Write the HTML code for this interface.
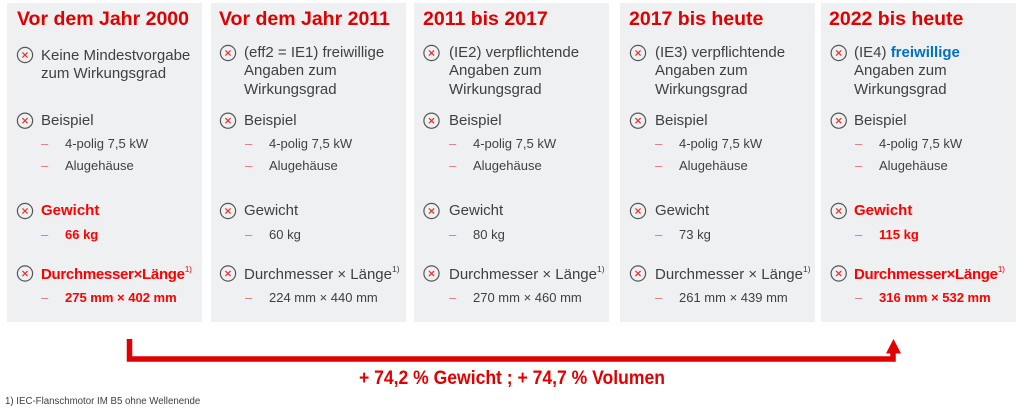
<!DOCTYPE html>
<html><head><meta charset="utf-8">
<style>
*{margin:0;padding:0;box-sizing:border-box}
html,body{width:1024px;height:414px;background:#fff;overflow:hidden}
body{position:relative;font-family:"Liberation Sans",Arial,sans-serif;color:#404040}
.p{position:absolute;top:3px;height:319px;width:195px;background:#eff0f2}
.t{position:absolute;white-space:nowrap}
.title{font-size:19.5px;line-height:1.2;font-weight:bold;color:#e00000}
.m{font-size:15px;line-height:18.5px}
.s{font-size:13px;line-height:16px}
.r{color:#ff0000;font-weight:bold}
.d{color:#ee6b6b}
.b{color:#0070c0;font-weight:bold}
sup{font-size:8.5px;position:relative;top:-1px;vertical-align:top;line-height:1;font-weight:normal}
.r sup{font-weight:normal}
svg{position:absolute;overflow:visible}
</style></head><body>

<div class="p" style="left:7px"></div>
<div class="p" style="left:211px"></div>
<div class="p" style="left:414px"></div>
<div class="p" style="left:620px"></div>
<div class="p" style="left:821px"></div>

<!-- icons -->
<svg width="1024" height="414" style="left:0;top:0">
<defs>
<g id="ic"><circle cx="0" cy="0" r="7.6" fill="none" stroke="#555" stroke-width="1.2"/><path d="M-2.6,-2.6L2.6,2.6M2.6,-2.6L-2.6,2.6" stroke="#e53935" stroke-width="1.3"/></g>
</defs>
<use href="#ic" x="25" y="55"/><use href="#ic" x="25" y="120.7"/><use href="#ic" x="25" y="211"/><use href="#ic" x="25" y="273.5"/>
<use href="#ic" x="228" y="53"/><use href="#ic" x="228" y="120.7"/><use href="#ic" x="228" y="211"/><use href="#ic" x="228" y="273.5"/>
<use href="#ic" x="431.5" y="53"/><use href="#ic" x="431.5" y="120.7"/><use href="#ic" x="431.5" y="211"/><use href="#ic" x="431.5" y="273.5"/>
<use href="#ic" x="638" y="53"/><use href="#ic" x="638" y="120.7"/><use href="#ic" x="638" y="211"/><use href="#ic" x="638" y="273.5"/>
<use href="#ic" x="838.7" y="53"/><use href="#ic" x="838.7" y="120.7"/><use href="#ic" x="838.7" y="211"/><use href="#ic" x="838.7" y="273.5"/>
<!-- arrow -->
<path d="M129.5,339 L129.5,359 L893,359 L893,352" fill="none" stroke="#e00000" stroke-width="5.5" stroke-linejoin="miter"/>
<polygon points="886,353.5 901,353.5 893.5,339" fill="#e00000"/>
</svg>

<!-- Panel 1 -->
<div class="t title" style="left:17px;top:8.3px">Vor dem Jahr 2000</div>
<div class="t m" style="left:41px;top:46.8px">Keine Mindestvorgabe<br>zum Wirkungsgrad</div>
<div class="t m" style="left:41px;top:112px">Beispiel</div>
<div class="t s d" style="left:41px;top:136px">–</div><div class="t s" style="left:65px;top:136px">4-polig 7,5 kW</div>
<div class="t s d" style="left:41px;top:158px">–</div><div class="t s" style="left:65px;top:158px">Alugehäuse</div>
<div class="t m r" style="left:41px;top:202px">Gewicht</div>
<div class="t s d" style="left:41px;top:227px">–</div><div class="t s r" style="left:65px;top:227px">66 kg</div>
<div class="t m r" style="left:41px;top:265.5px;letter-spacing:-0.3px">Durchmesser×Länge<sup>1)</sup></div>
<div class="t s d" style="left:41px;top:290px">–</div><div class="t s r" style="left:65px;top:290px">275 mm × 402 mm</div>

<!-- Panel 2 -->
<div class="t title" style="left:219px;top:8.3px">Vor dem Jahr 2011</div>
<div class="t m" style="left:244px;top:43.5px">(eff2 = IE1) freiwillige<br>Angaben zum<br>Wirkungsgrad</div>
<div class="t m" style="left:244px;top:112px">Beispiel</div>
<div class="t s d" style="left:245px;top:136px">–</div><div class="t s" style="left:269px;top:136px">4-polig 7,5 kW</div>
<div class="t s d" style="left:245px;top:158px">–</div><div class="t s" style="left:269px;top:158px">Alugehäuse</div>
<div class="t m" style="left:244px;top:202px">Gewicht</div>
<div class="t s d" style="left:245px;top:227px">–</div><div class="t s" style="left:269px;top:227px">60 kg</div>
<div class="t m" style="left:244px;top:265.5px">Durchmesser × Länge<sup>1)</sup></div>
<div class="t s d" style="left:245px;top:290px">–</div><div class="t s" style="left:269px;top:290px">224 mm × 440 mm</div>

<!-- Panel 3 -->
<div class="t title" style="left:423px;top:8.3px">2011 bis 2017</div>
<div class="t m" style="left:449px;top:43.5px">(IE2) verpflichtende<br>Angaben zum<br>Wirkungsgrad</div>
<div class="t m" style="left:449px;top:112px">Beispiel</div>
<div class="t s d" style="left:449px;top:136px">–</div><div class="t s" style="left:473px;top:136px">4-polig 7,5 kW</div>
<div class="t s d" style="left:449px;top:158px">–</div><div class="t s" style="left:473px;top:158px">Alugehäuse</div>
<div class="t m" style="left:449px;top:202px">Gewicht</div>
<div class="t s d" style="left:449px;top:227px">–</div><div class="t s" style="left:473px;top:227px">80 kg</div>
<div class="t m" style="left:449px;top:265.5px">Durchmesser × Länge<sup>1)</sup></div>
<div class="t s d" style="left:449px;top:290px">–</div><div class="t s" style="left:473px;top:290px">270 mm × 460 mm</div>

<!-- Panel 4 -->
<div class="t title" style="left:629px;top:8.3px">2017 bis heute</div>
<div class="t m" style="left:655px;top:43.5px">(IE3) verpflichtende<br>Angaben zum<br>Wirkungsgrad</div>
<div class="t m" style="left:655px;top:112px">Beispiel</div>
<div class="t s d" style="left:655px;top:136px">–</div><div class="t s" style="left:679px;top:136px">4-polig 7,5 kW</div>
<div class="t s d" style="left:655px;top:158px">–</div><div class="t s" style="left:679px;top:158px">Alugehäuse</div>
<div class="t m" style="left:655px;top:202px">Gewicht</div>
<div class="t s d" style="left:655px;top:227px">–</div><div class="t s" style="left:679px;top:227px">73 kg</div>
<div class="t m" style="left:655px;top:265.5px">Durchmesser × Länge<sup>1)</sup></div>
<div class="t s d" style="left:655px;top:290px">–</div><div class="t s" style="left:679px;top:290px">261 mm × 439 mm</div>

<!-- Panel 5 -->
<div class="t title" style="left:829px;top:8.3px">2022 bis heute</div>
<div class="t m" style="left:854px;top:43.5px">(IE4) <span class="b">freiwillige</span><br>Angaben zum<br>Wirkungsgrad</div>
<div class="t m" style="left:854px;top:112px">Beispiel</div>
<div class="t s d" style="left:855px;top:136px">–</div><div class="t s" style="left:879px;top:136px">4-polig 7,5 kW</div>
<div class="t s d" style="left:855px;top:158px">–</div><div class="t s" style="left:879px;top:158px">Alugehäuse</div>
<div class="t m r" style="left:854px;top:202px">Gewicht</div>
<div class="t s d" style="left:855px;top:227px">–</div><div class="t s r" style="left:879px;top:227px">115 kg</div>
<div class="t m r" style="left:854px;top:265.5px;letter-spacing:-0.3px">Durchmesser×Länge<sup>1)</sup></div>
<div class="t s d" style="left:855px;top:290px">–</div><div class="t s r" style="left:879px;top:290px">316 mm × 532 mm</div>

<!-- bottom text -->
<div class="t" style="left:0;top:366.5px;width:1024px;text-align:center;font-size:19.5px;line-height:1.2;font-weight:bold;color:#e00000"><span style="display:inline-block;transform:scaleX(0.9);transform-origin:center">+ 74,2 % Gewicht ; + 74,7 % Volumen</span></div>
<div class="t" style="left:5px;top:396px;font-size:9.7px;line-height:1.2;color:#404040">1) IEC-Flanschmotor IM B5 ohne Wellenende</div>

</body></html>
